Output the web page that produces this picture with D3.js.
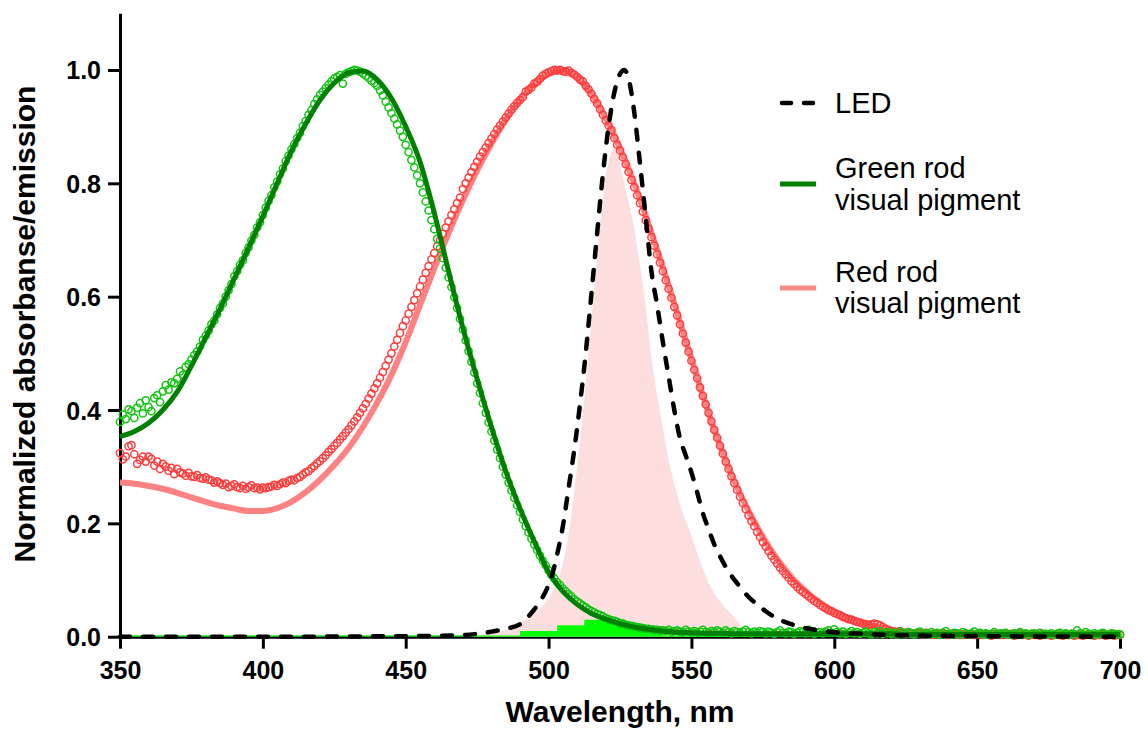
<!DOCTYPE html>
<html>
<head>
<meta charset="utf-8">
<script src="https://cdn.jsdelivr.net/npm/d3@7"></script>
<style>
  body { margin: 0; background: #fff; }
  svg { display: block; font-family: Arial, "Liberation Sans", Helvetica, sans-serif; }
</style>
</head>
<body>
<svg id="chart" width="1148" height="729"></svg>
<script>
// ---- data ----
const xTicks = [350, 400, 450, 500, 550, 600, 650, 700];
const yTicks = [0, 0.2, 0.4, 0.6, 0.8, 1.0];

// fitted templates, every 5 nm from 350 to 700
const fitWl = d3.range(350, 701, 5);
const greenFit = [
  0.353, 0.362, 0.377, 0.400, 0.432, 0.478, 0.528, 0.578, 0.632, 0.686,
  0.742, 0.800, 0.857, 0.905, 0.947, 0.977, 0.995, 0.998, 0.983, 0.950,
  0.900, 0.838, 0.748, 0.645, 0.545, 0.455, 0.370, 0.292, 0.226, 0.168,
  0.114, 0.080, 0.057, 0.041, 0.031, 0.023, 0.017, 0.013, 0.010, 0.008,
  0.007, 0.006, 0.006, 0.005, 0.005, 0.005, 0.005, 0.005, 0.005, 0.005,
  0.005, 0.005, 0.005, 0.005, 0.005, 0.004, 0.004, 0.004, 0.004, 0.004,
  0.004, 0.004, 0.004, 0.004, 0.004, 0.004, 0.004, 0.004, 0.004, 0.004,
  0.004
];
const redFit = [
  0.272, 0.270, 0.266, 0.261, 0.254, 0.246, 0.238, 0.231, 0.226, 0.222,
  0.222, 0.227, 0.238, 0.255, 0.277, 0.303, 0.333, 0.370, 0.413, 0.462,
  0.520, 0.585, 0.650, 0.712, 0.770, 0.823, 0.870, 0.912, 0.947, 0.975,
  0.993, 0.999, 0.987, 0.958, 0.915, 0.862, 0.800, 0.728, 0.652, 0.572,
  0.490, 0.410, 0.338, 0.275, 0.222, 0.176, 0.137, 0.105, 0.080, 0.060,
  0.044, 0.032, 0.023, 0.017, 0.012, 0.009, 0.007, 0.005, 0.004, 0.003,
  0.003, 0.003, 0.003, 0.003, 0.003, 0.003, 0.003, 0.003, 0.003, 0.003,
  0.003
];

// measured absorbance, every 1 nm from 350 to 700
const dataWl = d3.range(350, 701, 1);
const greenData = [].concat(
  [0.379, 0.392, 0.384, 0.401, 0.398, 0.386, 0.404, 0.412, 0.394, 0.417],
  [0.405, 0.398, 0.421, 0.426, 0.414, 0.433, 0.444, 0.436, 0.449, 0.447],
  [0.455, 0.468, 0.462, 0.476, 0.481, 0.489, 0.497, 0.503, 0.512, 0.524],
  [0.531, 0.540, 0.551, 0.558, 0.569, 0.580, 0.588, 0.600, 0.611, 0.622],
  [0.636, 0.645, 0.656, 0.664, 0.677, 0.687, 0.699, 0.709, 0.722, 0.731],
  [0.744, 0.757, 0.769, 0.779, 0.793, 0.803, 0.816, 0.826, 0.839, 0.849],
  [0.860, 0.869, 0.880, 0.889, 0.901, 0.910, 0.921, 0.929, 0.940, 0.948],
  [0.956, 0.962, 0.968, 0.974, 0.980, 0.985, 0.988, 0.991, 0.976, 0.993],
  [0.996, 0.998, 1.000, 0.999, 0.997, 0.994, 0.990, 0.986, 0.981, 0.977],
  [0.972, 0.964, 0.955, 0.944, 0.934, 0.924, 0.914, 0.904, 0.893, 0.882],
  [0.868, 0.855, 0.841, 0.828, 0.814, 0.800, 0.784, 0.768, 0.752, 0.735],
  [0.719, 0.702, 0.685, 0.668, 0.651, 0.634, 0.617, 0.599, 0.580, 0.561],
  [0.542, 0.523, 0.504, 0.485, 0.466, 0.447, 0.430, 0.412, 0.395, 0.378],
  [0.362, 0.346, 0.330, 0.315, 0.300, 0.286, 0.272, 0.258, 0.245, 0.232],
  [0.220, 0.207, 0.195, 0.184, 0.173, 0.163, 0.153, 0.143, 0.134, 0.126],
  [0.117, 0.109, 0.103, 0.096, 0.091, 0.085, 0.080, 0.075, 0.071, 0.066],
  [0.062, 0.059, 0.055, 0.052, 0.048, 0.045, 0.043, 0.040, 0.038, 0.036],
  [0.033, 0.031, 0.029, 0.028, 0.026, 0.024, 0.023, 0.021, 0.020, 0.019],
  [0.018, 0.017, 0.016, 0.015, 0.014, 0.014, 0.013, 0.012, 0.012, 0.011],
  [0.011, 0.010, 0.012, 0.009, 0.010, 0.011, 0.009, 0.008, 0.012, 0.009],
  [0.008, 0.010, 0.007, 0.009, 0.012, 0.008, 0.007, 0.010, 0.008, 0.011],
  [0.009, 0.007, 0.011, 0.008, 0.006, 0.010, 0.008, 0.007, 0.009, 0.012],
  [0.008, 0.006, 0.009, 0.007, 0.010, 0.008, 0.006, 0.009, 0.007, 0.005],
  [0.008, 0.011, 0.007, 0.006, 0.009, 0.008, 0.005, 0.007, 0.010, 0.008],
  [0.006, 0.012, 0.009, 0.005, 0.007, 0.008, 0.006, 0.009, 0.011, 0.007],
  [0.013, 0.008, 0.006, 0.009, 0.005, 0.007, 0.010, 0.006, 0.008, 0.005],
  [0.007, 0.009, 0.006, 0.004, 0.008, 0.006, 0.010, 0.005, 0.007, 0.008],
  [0.005, 0.007, 0.004, 0.009, 0.006, 0.005, 0.008, 0.006, 0.004, 0.007],
  [0.009, 0.005, 0.006, 0.004, 0.008, 0.005, 0.007, 0.003, 0.006, 0.010],
  [0.005, 0.004, 0.007, 0.006, 0.003, 0.008, 0.005, 0.004, 0.006, 0.009],
  [0.005, 0.007, 0.004, 0.006, 0.003, 0.005, 0.008, 0.004, 0.006, 0.005],
  [0.007, 0.004, 0.003, 0.006, 0.005, 0.008, 0.004, 0.006, 0.003, 0.005],
  [0.006, 0.004, 0.007, 0.003, 0.005, 0.004, 0.006, 0.003, 0.005, 0.007],
  [0.004, 0.006, 0.003, 0.005, 0.004, 0.011, 0.006, 0.004, 0.008, 0.005],
  [0.003, 0.006, 0.004, 0.005, 0.007, 0.004, 0.003, 0.006, 0.005, 0.004],
  [0.004]
);
const redData = [].concat(
  [0.324, 0.313, 0.318, 0.336, 0.338, 0.322, 0.305, 0.312, 0.318, 0.309],
  [0.318, 0.314, 0.302, 0.309, 0.296, 0.305, 0.300, 0.293, 0.298, 0.287],
  [0.296, 0.290, 0.288, 0.284, 0.289, 0.283, 0.282, 0.285, 0.280, 0.279],
  [0.281, 0.277, 0.276, 0.272, 0.274, 0.271, 0.268, 0.270, 0.264, 0.266],
  [0.269, 0.264, 0.262, 0.266, 0.261, 0.264, 0.267, 0.262, 0.263, 0.260],
  [0.263, 0.262, 0.264, 0.265, 0.268, 0.266, 0.269, 0.272, 0.271, 0.275],
  [0.277, 0.276, 0.280, 0.282, 0.286, 0.290, 0.292, 0.297, 0.301, 0.306],
  [0.310, 0.315, 0.320, 0.326, 0.331, 0.337, 0.342, 0.348, 0.354, 0.360],
  [0.366, 0.373, 0.380, 0.387, 0.395, 0.403, 0.411, 0.420, 0.429, 0.438],
  [0.447, 0.457, 0.467, 0.478, 0.489, 0.500, 0.512, 0.524, 0.536, 0.548],
  [0.558, 0.570, 0.582, 0.594, 0.606, 0.618, 0.630, 0.642, 0.654, 0.666],
  [0.677, 0.689, 0.700, 0.711, 0.722, 0.733, 0.744, 0.754, 0.765, 0.775],
  [0.790, 0.800, 0.810, 0.820, 0.829, 0.838, 0.847, 0.855, 0.863, 0.871],
  [0.879, 0.887, 0.895, 0.902, 0.909, 0.916, 0.923, 0.930, 0.936, 0.942],
  [0.947, 0.952, 0.962, 0.965, 0.969, 0.976, 0.979, 0.984, 0.990, 0.993],
  [0.996, 0.998, 1.000, 0.999, 1.000, 0.998, 0.997, 0.999, 0.995, 0.992],
  [0.988, 0.983, 0.980, 0.972, 0.966, 0.958, 0.949, 0.941, 0.931, 0.921],
  [0.911, 0.902, 0.894, 0.880, 0.868, 0.858, 0.846, 0.834, 0.820, 0.806],
  [0.793, 0.779, 0.765, 0.750, 0.735, 0.720, 0.705, 0.690, 0.675, 0.660],
  [0.645, 0.629, 0.614, 0.598, 0.582, 0.567, 0.551, 0.535, 0.519, 0.503],
  [0.487, 0.471, 0.456, 0.440, 0.425, 0.410, 0.395, 0.380, 0.365, 0.351],
  [0.337, 0.323, 0.309, 0.296, 0.283, 0.271, 0.259, 0.247, 0.236, 0.225],
  [0.214, 0.204, 0.195, 0.185, 0.176, 0.167, 0.159, 0.151, 0.143, 0.136],
  [0.129, 0.122, 0.116, 0.110, 0.104, 0.098, 0.093, 0.088, 0.083, 0.079],
  [0.075, 0.071, 0.067, 0.063, 0.060, 0.056, 0.053, 0.050, 0.047, 0.045],
  [0.042, 0.040, 0.038, 0.035, 0.033, 0.031, 0.030, 0.028, 0.026, 0.025],
  [0.023, 0.022, 0.021, 0.022, 0.023, 0.022, 0.020, 0.017, 0.014, 0.012],
  [0.010, 0.009, 0.008, 0.010, 0.007, 0.006, 0.008, 0.006, 0.005, 0.007],
  [0.006, 0.004, 0.007, 0.005, 0.003, 0.006, 0.004, 0.005, 0.007, 0.004],
  [0.003, 0.005, 0.006, 0.004, 0.005, 0.003, 0.006, 0.004, 0.005, 0.003],
  [0.004, 0.006, 0.003, 0.005, 0.004, 0.002, 0.005, 0.004, 0.003, 0.005],
  [0.004, 0.003, 0.005, 0.002, 0.004, 0.006, 0.003, 0.004, 0.002, 0.005],
  [0.003, 0.004, 0.002, 0.005, 0.003, 0.004, 0.002, 0.003, 0.005, 0.003],
  [0.002, 0.004, 0.003, 0.005, 0.002, 0.003, 0.004, 0.002, 0.003, 0.004],
  [0.003, 0.002, 0.004, 0.003, 0.005, 0.002, 0.003, 0.004, 0.002, 0.003],
  [0.003]
);

// LED emission (dashed)
const ledWl = [350, 400, 450, 470, 475, 480, 485, 490, 493, 496, 499, 501, 503, 505, 507,
  509, 511, 513, 515, 517, 519, 521, 523, 525, 526.5, 528, 530, 532, 534, 536, 538, 540,
  542, 544, 546, 548, 550, 552, 554, 556, 558, 560, 563, 567, 570, 573, 576, 580, 585,
  590, 595, 600, 610, 620, 650, 700];
const ledVal = [0, 0, 0.001, 0.003, 0.005, 0.009, 0.014, 0.022, 0.036, 0.055, 0.080, 0.105,
  0.145, 0.195, 0.262, 0.330, 0.410, 0.500, 0.605, 0.712, 0.815, 0.900, 0.960, 0.993, 1.000,
  0.985, 0.925, 0.835, 0.740, 0.645, 0.585, 0.520, 0.460, 0.400, 0.350, 0.320, 0.290, 0.255,
  0.218, 0.190, 0.163, 0.142, 0.115, 0.088, 0.070, 0.057, 0.045, 0.032, 0.022, 0.015, 0.011,
  0.008, 0.005, 0.003, 0.001, 0];

// pink filled spectrum
const pinkWl = [470, 478, 484, 488, 492, 495, 498, 500, 502, 504, 506, 508, 510, 512, 514,
  516, 518, 520, 521.5, 523, 524.5, 526, 528, 530, 532, 534, 536, 538, 540, 542, 544, 546,
  548, 550, 552, 554, 556, 558, 560, 562, 564, 566, 568, 569, 570];
const pinkVal = [0, 0.005, 0.010, 0.018, 0.030, 0.040, 0.055, 0.068, 0.085, 0.110, 0.150,
  0.215, 0.300, 0.395, 0.500, 0.615, 0.730, 0.815, 0.850, 0.865, 0.845, 0.810, 0.768, 0.720,
  0.655, 0.585, 0.490, 0.425, 0.370, 0.310, 0.270, 0.232, 0.205, 0.178, 0.148, 0.120, 0.095,
  0.076, 0.062, 0.050, 0.040, 0.028, 0.015, 0.010, 0];

// bright green filled spectrum (stepped)
const limeWl = [350, 490, 503, 512.5, 521.5, 528, 534, 540, 700];
const limeVal = [0.002, 0.010, 0.020, 0.030, 0.024, 0.015, 0.008, 0.002, 0.002];

// ---- chart ----
const svg = d3.select('#chart');
const x = d3.scaleLinear().domain([350, 700]).range([120, 1120]);
const y = d3.scaleLinear().domain([0, 1.1]).range([636.7, 13.3]);

const zip = (xs, ys) => xs.map((w, i) => ({ w, v: ys[i] }));

// axes
const xAxis = svg.append('g')
  .attr('transform', `translate(0,${y(0)})`)
  .call(d3.axisBottom(x).tickValues(xTicks).tickSize(12).tickSizeOuter(0).tickFormat(d3.format('d')));
const yAxis = svg.append('g')
  .attr('transform', `translate(${x(350)},0)`)
  .call(d3.axisLeft(y).tickValues(yTicks).tickSize(12).tickSizeOuter(0).tickFormat(d3.format('.1f')));

[xAxis, yAxis].forEach(g => {
  g.selectAll('path, line').attr('stroke', '#000').attr('stroke-width', 3);
  g.selectAll('text').attr('fill', '#000')
    .style('font-size', '25px').style('font-weight', 'bold')
    .style('font-family', 'Arial, "Liberation Sans", sans-serif');
});
xAxis.selectAll('text').attr('dy', null).attr('y', 42.5);
yAxis.selectAll('text').attr('x', -19).attr('dy', '0.36em');

// filled spectra
svg.append('path')
  .datum(zip(pinkWl, pinkVal))
  .attr('fill', '#fddede')
  .attr('d', d3.area().x(d => x(d.w)).y0(y(0)).y1(d => y(d.v)));

svg.append('path')
  .datum(zip(limeWl, limeVal))
  .attr('fill', '#00ff00')
  .attr('d', d3.area().curve(d3.curveStepAfter).x(d => x(d.w)).y0(y(0)).y1(d => y(d.v)));

const line = d3.line().curve(d3.curveMonotoneX).x(d => x(d.w)).y(d => y(d.v));

// red template line and data
svg.append('path')
  .datum(zip(fitWl, redFit))
  .attr('fill', 'none')
  .attr('stroke', '#ff8282')
  .attr('stroke-width', 6)
  .attr('d', line);

svg.append('g').selectAll('circle')
  .data(zip(dataWl, redData))
  .enter()
  .append('circle')
  .attr('cx', d => x(d.w))
  .attr('cy', d => y(d.v))
  .attr('r', 3.6)
  .attr('fill', 'none')
  .attr('stroke', '#ff3c3c')
  .attr('stroke-width', 1.5);

// green data and template line
svg.append('g').selectAll('circle')
  .data(zip(dataWl, greenData))
  .enter()
  .append('circle')
  .attr('cx', d => x(d.w))
  .attr('cy', d => y(d.v))
  .attr('r', 3.6)
  .attr('fill', 'none')
  .attr('stroke', '#10c410')
  .attr('stroke-width', 1.5);

svg.append('path')
  .datum(zip(fitWl, greenFit))
  .attr('fill', 'none')
  .attr('stroke', '#008000')
  .attr('stroke-width', 5)
  .attr('d', line);

// LED
svg.append('path')
  .datum(zip(ledWl, ledVal))
  .attr('fill', 'none')
  .attr('stroke', '#000')
  .attr('stroke-width', 4.5)
  .attr('stroke-linecap', 'round')
  .attr('stroke-dasharray', '10,13')
  .attr('d', line);

// axis titles
svg.append('text')
  .attr('x', 620).attr('y', 722)
  .attr('text-anchor', 'middle')
  .style('font-size', '30px').style('font-weight', 'bold')
  .text('Wavelength, nm');

svg.append('text')
  .attr('transform', 'translate(35,324) rotate(-90)')
  .attr('text-anchor', 'middle')
  .style('font-size', '30px').style('font-weight', 'bold')
  .text('Normalized absorbanse/emission');

// legend
const legend = svg.append('g');
legend.append('line')
  .attr('x1', 782).attr('x2', 815).attr('y1', 103).attr('y2', 103)
  .attr('stroke', '#000').attr('stroke-width', 4.5)
  .attr('stroke-linecap', 'round').attr('stroke-dasharray', '9,13');
legend.append('line')
  .attr('x1', 780).attr('x2', 816).attr('y1', 184).attr('y2', 184)
  .attr('stroke', '#008000').attr('stroke-width', 5);
legend.append('line')
  .attr('x1', 780).attr('x2', 816).attr('y1', 288).attr('y2', 288)
  .attr('stroke', '#ff8a8a').attr('stroke-width', 5);

const legendText = [
  { y: 113, t: 'LED' },
  { y: 178, t: 'Green rod' },
  { y: 210, t: 'visual pigment' },
  { y: 282, t: 'Red rod' },
  { y: 313, t: 'visual pigment' },
];
legend.selectAll('text.lg')
  .data(legendText)
  .enter()
  .append('text')
  .attr('class', 'lg')
  .attr('x', 835)
  .attr('y', d => d.y)
  .style('font-size', '29px')
  .text(d => d.t);
</script>
</body>
</html>
